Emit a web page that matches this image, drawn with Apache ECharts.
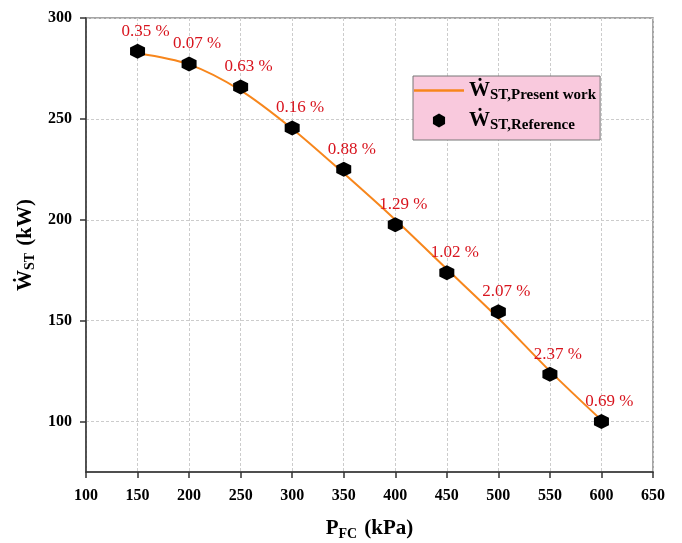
<!DOCTYPE html>
<html>
<head>
<meta charset="utf-8">
<script src="https://cdn.jsdelivr.net/npm/echarts@6/dist/echarts.min.js"></script>
<style>
    html, body { margin: 0; padding: 0; background: #fff; }
    #stCharts { width: 682px; height: 543px; }
</style>
</head>
<body>
<div id="stCharts"></div>
<script>
    // P_FC (kPa)
    const pressure = [150, 200, 250, 300, 350, 400, 450, 500, 550, 600]
    // W_ST present work (line) and reference (markers), kW
    const presentWork = [282.5, 277.0, 264.1, 245.1, 223.0, 200.0, 175.6, 151.2, 125.0, 100.7]
    const reference = [283.5, 277.2, 265.8, 245.5, 225.0, 197.5, 173.8, 154.4, 123.4, 100.0]
    const errorLabels = ['0.35 %', '0.07 %', '0.63 %', '0.16 %', '0.88 %', '1.29 %', '1.02 %', '2.07 %', '2.37 %', '0.69 %']
    const xTicks = [100, 150, 200, 250, 300, 350, 400, 450, 500, 550, 600, 650]
    const yTicks = [100, 150, 200, 250, 300]

    const serif = "'Liberation Serif', 'Times New Roman', 'DejaVu Serif', serif"
    const hexagon = 'path://M0,-1 L0.866,-0.5 L0.866,0.5 L0,1 L-0.866,0.5 L-0.866,-0.5 Z'
    const lineIcon = 'path://M0,0 L50,0 L50,2.5 L0,2.5 Z'

    const nameRich = {
        w: {fontFamily: serif, fontWeight: 'bold', fontSize: 21, color: '#000', lineHeight: 26},
        s: {fontFamily: serif, fontWeight: 'bold', fontSize: 14, color: '#000', padding: [10, 2, 0, 0]},
        u: {fontFamily: serif, fontWeight: 'bold', fontSize: 21, color: '#000', lineHeight: 26}
    }

    const _stCharts = {
        animation: false,
        backgroundColor: '#fff',
        grid: {
            left: 86,
            right: 29,
            top: 18,
            bottom: 71,
            outerBoundsMode: 'none',
            show: true,
            borderColor: '#888',
            borderWidth: 1.5
        },
        legend: {
            orient: 'vertical',
            left: 413,
            top: 76,
            backgroundColor: '#f9c9dd',
            borderColor: '#777',
            borderWidth: 1,
            padding: [4, 4, 7, 1],
            itemWidth: 50,
            itemHeight: 14,
            itemGap: 7,
            data: [
                {name: 'Present work', icon: lineIcon},
                {name: 'Reference', icon: hexagon}
            ],
            formatter: function (name) {
                return '{w|Ẇ}{s|ST,' + name + '}'
            },
            textStyle: {
                rich: {
                    w: {fontFamily: serif, fontWeight: 'bold', fontSize: 21, color: '#000', lineHeight: 26},
                    s: {fontFamily: serif, fontWeight: 'bold', fontSize: 15, color: '#000', padding: [10, 0, 0, 0]}
                }
            }
        },
        xAxis: {
            type: 'value',
            min: 100,
            max: 650,
            interval: 25,
            name: '{u|P}{s|FC}{u| (kPa)}',
            nameLocation: 'middle',
            nameGap: 44,
            nameTextStyle: {rich: nameRich},
            axisLine: {lineStyle: {color: '#333', width: 1.5}},
            axisTick: {
                show: true,
                customValues: xTicks,
                length: 6,
                lineStyle: {color: '#333', width: 1.5}
            },
            axisLabel: {
                customValues: xTicks,
                margin: 16,
                color: '#000',
                fontFamily: serif,
                fontWeight: 'bold',
                fontSize: 16
            },
            splitLine: {
                show: true,
                lineStyle: {color: '#ccc', type: [3, 2], width: 1}
            }
        },
        yAxis: {
            type: 'value',
            min: 75,
            max: 300,
            interval: 25,
            name: '{u|Ẇ}{s|ST}{u| (kW)}',
            nameLocation: 'middle',
            nameGap: 44,
            nameTextStyle: {rich: nameRich},
            axisLine: {show: true, lineStyle: {color: '#333', width: 1.5}},
            axisTick: {
                show: true,
                customValues: yTicks,
                length: 6,
                lineStyle: {color: '#333', width: 1.5}
            },
            axisLabel: {
                customValues: yTicks,
                margin: 14,
                color: '#000',
                fontFamily: serif,
                fontWeight: 'bold',
                fontSize: 16
            },
            splitLine: {
                show: true,
                lineStyle: {color: '#ccc', type: [3, 2], width: 1}
            }
        },
        series: [
            {
                name: 'Present work',
                type: 'line',
                smooth: 0.3,
                showSymbol: false,
                data: pressure.map((p, i) => [p, presentWork[i]]),
                lineStyle: {color: '#f7861c', width: 2},
                itemStyle: {color: '#f7861c'},
                z: 2
            },
            {
                name: 'Reference',
                type: 'scatter',
                symbol: hexagon,
                symbolSize: 15,
                data: pressure.map((p, i) => [p, reference[i]]),
                itemStyle: {color: '#000', opacity: 1},
                label: {
                    show: true,
                    position: 'top',
                    distance: 4,
                    offset: [8, 0],
                    formatter: (params) => errorLabels[params.dataIndex],
                    color: '#d8141e',
                    fontFamily: serif,
                    fontSize: 17
                },
                z: 3
            }
        ]
    }

    const stCharts = echarts.init(document.getElementById('stCharts'))
    stCharts.setOption(_stCharts)
    window.addEventListener('resize', () => stCharts.resize())
</script>
</body>
</html>
